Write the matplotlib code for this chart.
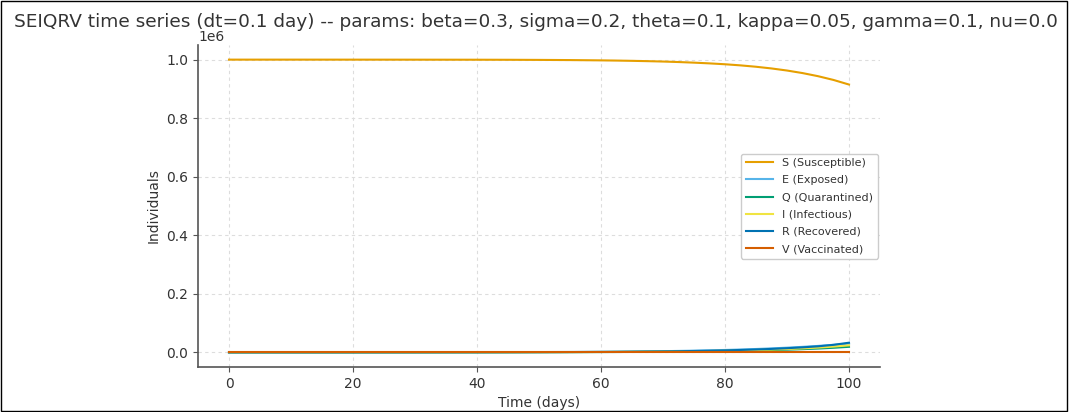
import matplotlib
matplotlib.use("Agg")
import matplotlib.pyplot as plt
from matplotlib.patches import Rectangle
import numpy as np

# time points (days) and compartment values (millions)
t = [0, 10, 20, 30, 40, 45, 50, 55, 60, 62.5, 65, 67.5, 70, 72.5, 75, 77.5, 80,
     82.5, 85, 87.5, 90, 92.5, 95, 97.5, 100]
S = [1.0, 1.0, 0.99995, 0.99985, 0.9997, 0.9995, 0.9991, 0.9985, 0.9975, 0.9968,
     0.9959, 0.9948, 0.9935, 0.9918, 0.9897, 0.9872, 0.9842, 0.9804, 0.9757, 0.9699,
     0.9628, 0.9541, 0.9435, 0.9306, 0.9149]
E = [0.0, 0.00003, 0.0001, 0.0002, 0.0005, 0.0007, 0.001, 0.0014, 0.002, 0.0024,
     0.0029, 0.0035, 0.0041, 0.0049, 0.0058, 0.0069, 0.0082, 0.0097, 0.0115, 0.0136,
     0.016, 0.0188, 0.022, 0.0257, 0.030]
Q = [0.0, 0.00002, 0.00005, 0.0001, 0.0002, 0.0003, 0.0005, 0.0007, 0.001, 0.0012,
     0.0015, 0.0018, 0.0021, 0.0025, 0.003, 0.0037, 0.0045, 0.0054, 0.0065, 0.0078,
     0.0092, 0.011, 0.013, 0.0157, 0.019]
I = [0.0, 0.00002, 0.00006, 0.00014, 0.0003, 0.0004, 0.0006, 0.0009, 0.0013, 0.0016,
     0.0019, 0.0023, 0.0027, 0.0033, 0.0039, 0.0047, 0.0056, 0.0067, 0.008, 0.0096,
     0.0114, 0.0136, 0.0163, 0.0197, 0.024]
R = [0.0, 0.00002, 0.00006, 0.00015, 0.0003, 0.0005, 0.0007, 0.001, 0.0015, 0.0018,
     0.0022, 0.0027, 0.0032, 0.0039, 0.0047, 0.0057, 0.0068, 0.0082, 0.0098, 0.0118,
     0.0142, 0.0171, 0.0206, 0.0257, 0.033]
V = [0.0] * len(t)

series = [
    ("S (Susceptible)", S, "#E69F00"),
    ("E (Exposed)", E, "#56B4E9"),
    ("Q (Quarantined)", Q, "#009E73"),
    ("I (Infectious)", I, "#F0E442"),
    ("R (Recovered)", R, "#0072B2"),
    ("V (Vaccinated)", V, "#D55E00"),
]

txt = "#333333"
plt.rcParams["text.color"] = txt
plt.rcParams["axes.labelcolor"] = txt
plt.rcParams["xtick.color"] = txt
plt.rcParams["ytick.color"] = txt

fig = plt.figure(figsize=(10.69, 4.12), dpi=100)
ax = fig.add_axes([198/1069, 1-367/412, (880-198)/1069, (367-45)/412])

for name, vals, col in series:
    ax.plot(t, np.array(vals) * 1e6, color=col, lw=1.5, label=name)

ax.set_xlabel("Time (days)", fontsize=10)
ax.set_ylabel("Individuals", fontsize=10)
ax.tick_params(labelsize=10, color="#555555")
ax.grid(True, linestyle=(0, (3, 3)), color="#dddddd", lw=0.8)
for s in ["top", "right"]:
    ax.spines[s].set_visible(False)
for s in ["left", "bottom"]:
    ax.spines[s].set_color("#555555")
    ax.spines[s].set_linewidth(1.2)
ax.yaxis.get_offset_text().set_fontsize(10)

ax.legend(loc="center right", fontsize=8, frameon=True, framealpha=1,
          edgecolor="#cccccc", handlelength=2.5, borderaxespad=0.2,
          labelspacing=0.65)

fig.text(14/1069, 1-22/412,
         "SEIQRV time series (dt=0.1 day) -- params: beta=0.3, sigma=0.2, theta=0.1, kappa=0.05, gamma=0.1, nu=0.0",
         fontsize=13.3, ha="left", va="center", color=txt)

fig.patches.append(Rectangle((0.001, 0.002), 0.997, 0.995, transform=fig.transFigure,
                             fill=False, edgecolor="black", lw=1))

fig.savefig("out.png", dpi=100)
